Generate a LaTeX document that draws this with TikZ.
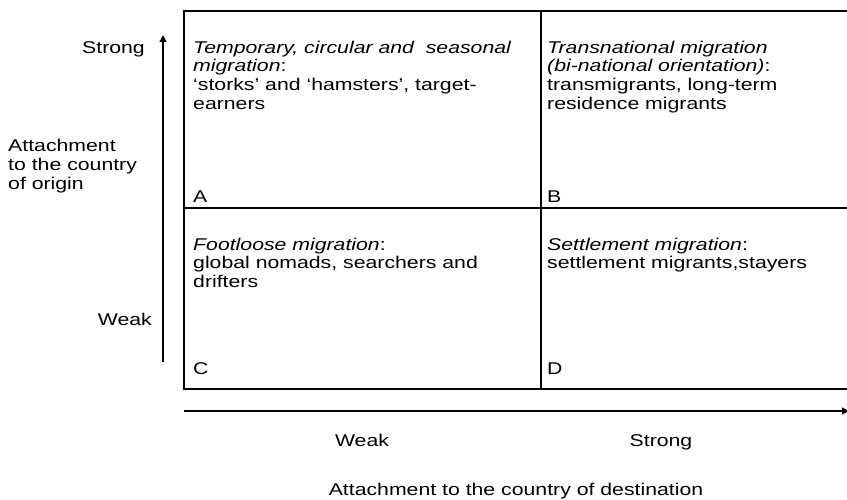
\documentclass[tikz,border=0pt]{standalone}
\usepackage{fontspec}
\setmainfont{Liberation Sans}[FakeStretch=1.25]
\usetikzlibrary{arrows.meta}
\newcommand\lnst{\rule{0pt}{14pt}}
\begin{document}
\begin{tikzpicture}[x=1pt,y=-1pt,
  txt/.style={inner sep=0pt, font=\fontsize{17}{18.7}\selectfont, align=left},
  frame/.style={line width=2pt, line join=miter},
  axis/.style={line width=1.2pt, -{Triangle[length=7pt,width=7pt]}}]
\useasboundingbox (0,0) rectangle (847,500);
\clip (0,0) rectangle (847,500);
% frame
\coordinate (TL) at (184,11);
\coordinate (TR) at (855,11);
\coordinate (ML) at (184,208);
\coordinate (MR) at (855,208);
\coordinate (BL) at (184,389);
\coordinate (BR) at (855,389);
\coordinate (TM) at (541,11);
\coordinate (BM) at (541,389);
\draw[frame] (TR) -- (TL) -- (BL) -- (BR);
\draw[frame] (ML) -- (MR);
\draw[frame] (TM) -- (BM);
% axes
\coordinate (v0) at (163,362);
\coordinate (v1) at (163,35);
\draw[axis] (v0) -- (v1);
\coordinate (h0) at (184,411);
\coordinate (h1) at (849,411);
\draw[axis] (h0) -- (h1);
% cells
\node[txt,anchor=north west] (cellA) at (193,39) {\lnst\textit{Temporary, circular and\ \ seasonal}\\\textit{migration}:\\‘storks’ and ‘hamsters’, target-\\earners};
\node[txt,anchor=north west] (cellB) at (547,39) {\lnst\textit{Transnational migration}\\\textit{(bi-national orientation)}:\\transmigrants, long-term\\residence migrants};
\node[txt,anchor=north west] (cellC) at (193,236) {\lnst\textit{Footloose migration}:\\global nomads, searchers and\\drifters};
\node[txt,anchor=north west] (cellD) at (547,236) {\lnst\textit{Settlement migration}:\\settlement migrants,stayers};
\node[txt,anchor=base west] (labA) at (193,203) {A};
\node[txt,anchor=base west] (labB) at (547,203) {B};
\node[txt,anchor=base west] (labC) at (193,374) {C};
\node[txt,anchor=base west] (labD) at (547,374) {D};
% left axis labels
\node[txt,anchor=base east] (ystrong) at (145,54) {Strong};
\node[txt,anchor=base east] (yweak) at (152,325) {Weak};
\node[txt,anchor=north west] (ytitle) at (8,137.5) {\lnst Attachment\\to the country\\of origin};
% bottom axis labels
\node[txt,anchor=base] (xweak) at (362,446) {Weak};
\node[txt,anchor=base] (xstrong) at (661,446) {Strong};
\node[txt,anchor=base] (xtitle) at (516,495) {Attachment to the country of destination};
\end{tikzpicture}
\end{document}
